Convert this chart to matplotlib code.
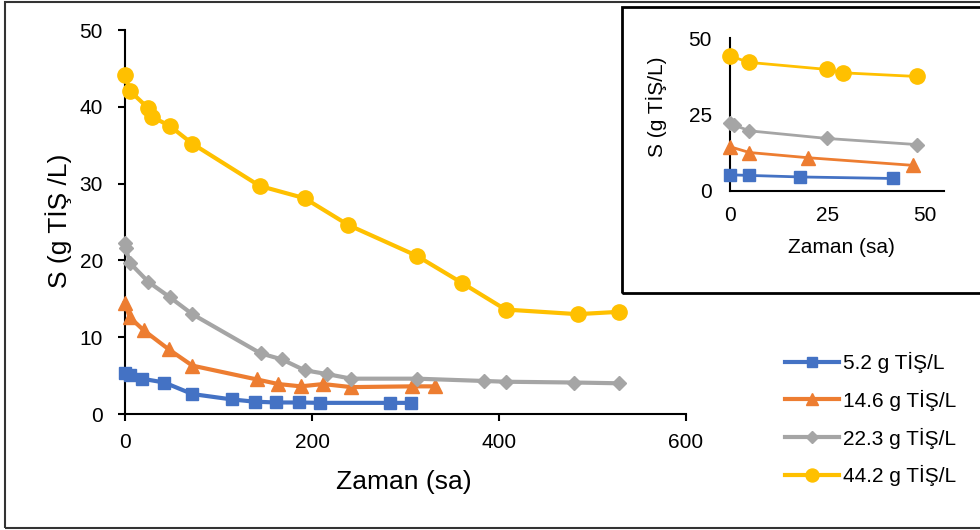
import matplotlib
matplotlib.use("Agg")
import matplotlib.pyplot as plt
from matplotlib.patches import Rectangle

plt.rcParams["font.family"] = ["Liberation Sans", "DejaVu Sans"]

# time (sa) and substrate (g TİŞ/L)
t_52 = [0, 5, 18, 42, 72, 114, 139, 162, 186, 209, 283, 306]
s_52 = [5.3, 5.1, 4.6, 4.1, 2.6, 1.9, 1.6, 1.5, 1.5, 1.45, 1.45, 1.45]

t_146 = [0, 5, 20, 47, 72, 141, 164, 188, 212, 242, 307, 332]
s_146 = [14.5, 12.6, 10.9, 8.4, 6.3, 4.5, 3.9, 3.6, 3.9, 3.5, 3.6, 3.6]

t_223 = [0, 1, 5, 25, 48, 72, 145, 168, 192, 216, 242, 312, 384, 408, 480, 528]
s_223 = [22.3, 21.6, 19.7, 17.2, 15.2, 13.0, 7.9, 7.1, 5.7, 5.2, 4.6, 4.6, 4.3, 4.2, 4.1, 4.0]

t_442 = [0, 5, 25, 29, 48, 72, 144, 192, 239, 312, 360, 407, 484, 528]
s_442 = [44.2, 42.1, 39.8, 38.7, 37.5, 35.2, 29.7, 28.1, 24.6, 20.6, 17.1, 13.6, 13.0, 13.3]

series = [
    ("5.2 g TİŞ/L", t_52, s_52, "#4472C4", "s", 9),
    ("14.6 g TİŞ/L", t_146, s_146, "#ED7D31", "^", 10),
    ("22.3 g TİŞ/L", t_223, s_223, "#A5A5A5", "D", 7),
    ("44.2 g TİŞ/L", t_442, s_442, "#FFC000", "o", 11),
]
inset_max_t = 48

W, H = 980, 530
fig = plt.figure(figsize=(W / 100, H / 100), dpi=100)

# outer chart border and inset box
fig.patches.append(Rectangle((5 / W, 2 / H), 1.1, (526 / H), transform=fig.transFigure,
                             fill=False, edgecolor="#333333", linewidth=1.5))
fig.patches.append(Rectangle((622 / W, (H - 293) / H), 1.0, 286 / H, transform=fig.transFigure,
                             fill=False, edgecolor="black", linewidth=2, zorder=5))

# main axes
ax = fig.add_axes([125 / W, (H - 414) / H, 561 / W, 384 / H])
handles = []
for name, t, s, c, m, ms in series:
    h, = ax.plot(t, s, color=c, marker=m, markersize=ms, linewidth=3, label=name,
                 clip_on=False, zorder=3)
    handles.append(h)

ax.set_xlim(0, 600)
ax.set_ylim(0, 50)
ax.set_xticks([0, 200, 400, 600])
ax.set_yticks([0, 10, 20, 30, 40, 50])
for side in ["top", "right"]:
    ax.spines[side].set_visible(False)
for side in ["left", "bottom"]:
    ax.spines[side].set_linewidth(1.5)
ax.tick_params(direction="out", length=5, width=1.5, labelsize=15)
ax.tick_params(axis="y", pad=11)
ax.tick_params(axis="x", pad=9)
ax.set_xlabel("Zaman (sa)", fontsize=19)
ax.set_ylabel("S (g TİŞ /L)", fontsize=19)
ax.xaxis.label.set_verticalalignment("center")
ax.yaxis.label.set_verticalalignment("center")
ax.xaxis.set_label_coords(0.497, -0.177)
ax.yaxis.set_label_coords(-0.119, 0.503)

# legend
fig.legend(handles=handles, loc="upper left", bbox_to_anchor=(785 / W, (H - 352) / H),
           bbox_transform=fig.transFigure, frameon=False, fontsize=15,
           handlelength=2.6, handletextpad=0.2, labelspacing=0.8,
           borderpad=0, borderaxespad=0, markerscale=0.85)

# inset: first 48 hours
axi = fig.add_axes([730 / W, (H - 191) / H, 214 / W, 152.7 / H])
for name, t, s, c, m, ms in series:
    tt = [v for v in t if v <= inset_max_t]
    ss = [s[i] for i, v in enumerate(t) if v <= inset_max_t]
    axi.plot(tt, ss, color=c, marker=m, markersize=ms, linewidth=2,
             clip_on=False, zorder=3)
axi.set_xlim(0, 55)
axi.set_ylim(0, 50)
axi.set_xticks([0, 25, 50])
axi.set_yticks([0, 25, 50])
for side in ["top", "right"]:
    axi.spines[side].set_visible(False)
for side in ["left", "bottom"]:
    axi.spines[side].set_linewidth(1.5)
axi.tick_params(length=0, labelsize=15)
axi.tick_params(axis="y", pad=13)
axi.tick_params(axis="x", pad=11)
axi.set_xlabel("Zaman (sa)", fontsize=15)
axi.set_ylabel("S (g TİŞ/L)", fontsize=15)
axi.xaxis.label.set_verticalalignment("center")
axi.yaxis.label.set_verticalalignment("center")
axi.xaxis.set_label_coords(0.523, -0.373)
axi.yaxis.set_label_coords(-0.345, 0.55)

fig.savefig("out.png", dpi=100)
